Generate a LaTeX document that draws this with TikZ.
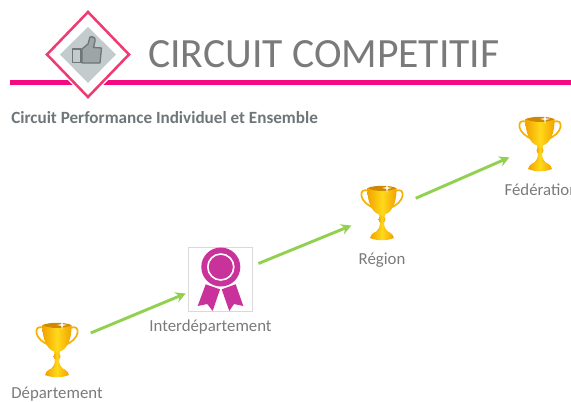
\documentclass[tikz,border=0pt]{standalone}
\usepackage{xcolor}
\usepackage{fontspec}
\setmainfont{Carlito}
\usepackage{tikz}
\usetikzlibrary{arrows.meta,positioning}

\definecolor{rose}{HTML}{F50A80}
\definecolor{rosepale}{HTML}{EE3C72}
\definecolor{gris}{HTML}{C3CBCD}
\definecolor{grisfonce}{HTML}{6E7679}
\definecolor{texte}{HTML}{7A7A7A}
\definecolor{vert}{HTML}{92D050}
\definecolor{magenta}{HTML}{C8329A}
\definecolor{orclair}{HTML}{FFD91A}
\definecolor{orfonce}{HTML}{F2A100}

\tikzset{
    titre/.style={font=\fontsize{31.2}{34}\selectfont, text=texte, inner sep=0pt},
    sstitre/.style={font=\fontsize{12.85}{15}\selectfont\bfseries, text=grisfonce, inner sep=0pt},
    lbl/.style={font=\fontsize{12.6}{14}\selectfont, text=texte, inner sep=0pt},
    coupe/.style={minimum width=46pt, minimum height=44pt, inner sep=0pt, outer sep=0pt},
    medaille/.style={draw=black!15, line width=0.5pt, fill=white, minimum width=48.3pt, minimum height=48pt, inner sep=0pt, outer sep=2pt},
    fleche/.style={vert, line width=2.2pt, shorten <=2.5pt, -{Stealth[length=7.5pt, width=8pt]}},
    trophy/.pic={
        \draw[orfonce!70!orclair, line width=1.3pt] (-13,-22) .. controls (-25,-27) and (-23,-9) .. (-7,-5);
        \draw[orfonce!70!orclair, line width=1.3pt] (13,-22) .. controls (25,-27) and (23,-9) .. (7,-5);
        \shade[left color=orfonce, right color=orfonce, middle color=orclair] (-3,0) -- (3,0) -- (2,10) .. controls (2,15) and (5,18) .. (7,20) -- (-7,20) .. controls (-5,18) and (-2,15) .. (-2,10) -- cycle;
        \shade[left color=orfonce, right color=orfonce, middle color=orclair] (-14.5,-25) .. controls (-15,-8) and (-8,2) .. (0,2) .. controls (8,2) and (15,-8) .. (14.5,-25) -- cycle;
        \shade[left color=orfonce, right color=orfonce, middle color=orclair] (0,6.5) circle (3.5);
        \shade[left color=orfonce, right color=orfonce, middle color=orclair] (-12,25) .. controls (-11,20) and (-6,18) .. (0,17) .. controls (6,18) and (11,20) .. (12,25) .. controls (5,28) and (-5,28) .. (-12,25) -- cycle;
        \fill[orfonce!85!black] (-14.5,-25) .. controls (-7,-28) and (7,-28) .. (14.5,-25) .. controls (7,-21) and (-7,-21) .. (-14.5,-25) -- cycle;
        \fill[white] (5,-30) -- (5.8,-25.8) -- (10,-25) -- (5.8,-24.2) -- (5,-20) -- (4.2,-24.2) -- (0,-25) -- (4.2,-25.8) -- cycle;
    }
}

\begin{document}
\begin{tikzpicture}[x=0.75pt, y=-0.75pt]
    \useasboundingbox (0,0) rectangle (571,401);
    \clip (0,0) rectangle (571,401);

    % bandeau
    \draw[rose, line width=3.5pt] (10,82.5) -- (571,82.5);
    \draw[white, line width=3.5pt, fill=white] (88,12) -- (130,54.5) -- (88,97) -- (46,54.5) -- cycle;
    \draw[rosepale, line width=1.9pt, fill=white, line join=miter] (88,12) -- (129,54.5) -- (88,97) -- (47,54.5) -- cycle;
    \fill[gris] (88,27) -- (116,54.5) -- (88,83) -- (60,54.5) -- cycle;
    \draw[grisfonce, line width=1pt, line join=round] (72.7,49) rectangle (81,62.7);
    \draw[grisfonce, line width=1pt, line join=round, fill=grisfonce!45!gris] (82,49) -- (88,44) -- (90,37) .. controls (93,36) and (96,38) .. (95,41) -- (93.5,47.5) -- (101.5,48) -- (100,63) -- (82,63) -- cycle;

    \node[titre, anchor=west] (titrep) at (148,54) {CIRCUIT COMPETITIF};
    \node[sstitre, anchor=west] (soustitre) at (11,118) {Circuit Performance Individuel et Ensemble};

    % etapes
    \node[coupe] (dep) at (57,347) {};
    \node[medaille] (inter) at (220.5,279) {};
    \node[coupe] (reg) at (382,213) {};
    \node[coupe] (fed) at (540,144) {};

    \foreach \n/\d in {dep/-2.25,reg/0,fed/0} {
        \pic[yshift=\d pt] at (\n) {trophy};
    }

    \fill[magenta] (205.7,284.3) -- (220,289.3) -- (212.7,311) -- (207.3,304) -- (197.7,306) -- cycle;
    \fill[magenta] (221.7,289.3) -- (235.7,284.3) -- (243.3,306) -- (234,304) -- (229.3,311) -- cycle;
    \fill[magenta] (220.8,267) circle (19.5);
    \draw[white, line width=1.2pt] (220.8,267) circle (13);

    \node[lbl, below=7.5pt of dep] (ldep) {Département};
    \node[lbl, below=4.5pt of inter, xshift=-7.5pt] (linter) {Interdépartement};
    \node[lbl, below=7.5pt of reg] (lreg) {Région};
    \node[lbl, below=7.5pt of fed, xshift=1pt] (lfed) {Fédération};

    \foreach \a/\b in {dep/inter,inter/reg,reg/fed} {
        \draw[fleche] (\a) -- (\b);
    }
\end{tikzpicture}
\end{document}
